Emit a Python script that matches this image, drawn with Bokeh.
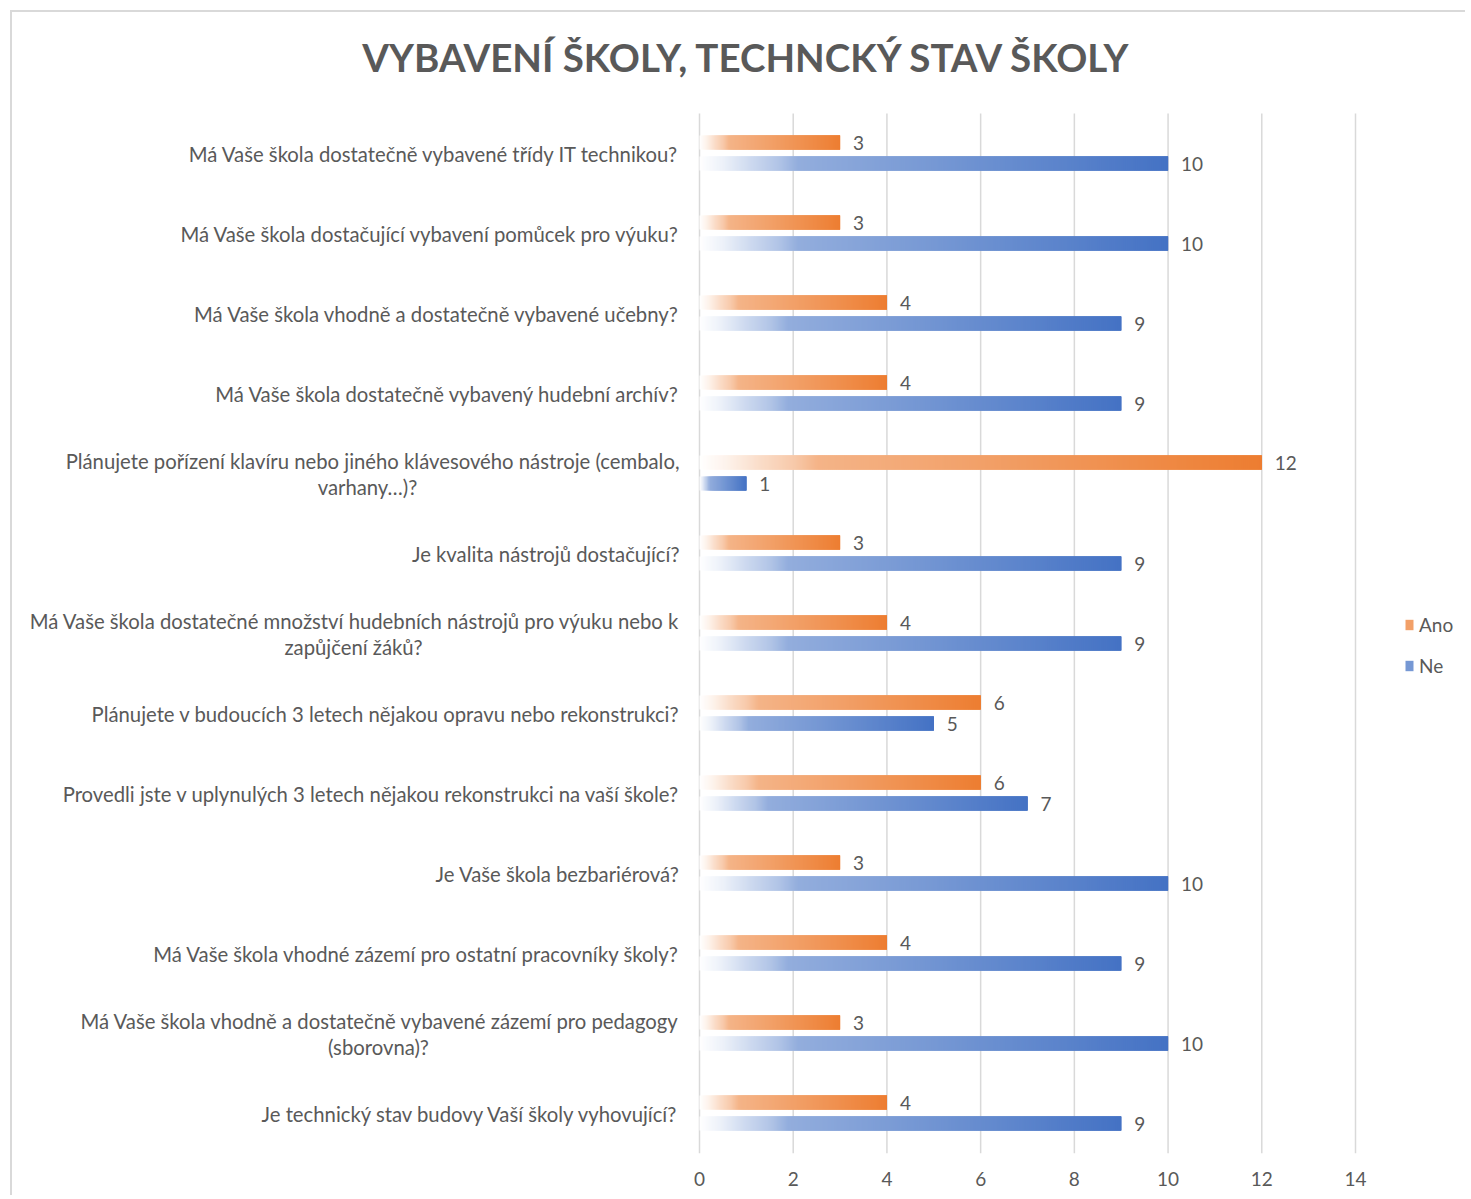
import math
import numpy as np
from bokeh.plotting import figure
from bokeh.models import (Range1d, ColumnDataSource, LabelSet, Legend, LegendItem,
                          FixedTicker)
from bokeh.embed import file_html
from bokeh.resources import INLINE
from bokeh.core.properties import value

# ---------------- data ----------------
title_text = "VYBAVENÍ ŠKOLY, TECHNCKÝ STAV ŠKOLY"
categories = [
    "Má Vaše škola dostatečně vybavené třídy IT technikou?",
    "Má Vaše škola dostačující vybavení pomůcek pro výuku?",
    "Má Vaše škola vhodně a dostatečně vybavené učebny?",
    "Má Vaše škola dostatečně vybavený hudební archív?",
    "Plánujete pořízení klavíru nebo jiného klávesového nástroje (cembalo,\nvarhany…)?",
    "Je kvalita nástrojů dostačující?",
    "Má Vaše škola dostatečné množství hudebních nástrojů pro výuku nebo k\nzapůjčení žáků?",
    "Plánujete v budoucích 3 letech nějakou opravu nebo rekonstrukci?",
    "Provedli jste v uplynulých 3 letech nějakou rekonstrukci na vaší škole?",
    "Je Vaše škola bezbariérová?",
    "Má Vaše škola vhodné zázemí pro ostatní pracovníky školy?",
    "Má Vaše škola vhodně a dostatečně vybavené zázemí pro pedagogy\n(sborovna)?",
    "Je technický stav budovy Vaší školy vyhovující?",
]
ano = [3, 3, 4, 4, 12, 3, 4, 6, 6, 3, 4, 3, 4]
ne = [10, 10, 9, 9, 1, 9, 9, 5, 7, 10, 9, 10, 9]
series_names = ["Ano", "Ne"]
x_ticks = [0, 2, 4, 6, 8, 10, 12, 14]

# ---------------- layout / style ----------------
W, H = 1455, 1185
ZERO_PX = 687            # canvas x of value 0
PX_PER_UNIT = 656 / 14
X0 = -ZERO_PX / PX_PER_UNIT
X1 = (W - ZERO_PX) / PX_PER_UNIT
PLOT_TOP_PX = 101        # canvas y where the category area starts
CAT_PX = 80              # pixel height of one category band
BOTTOM_BORDER = H - PLOT_TOP_PX - 13 * CAT_PX
TITLE_CY_PX = 44         # canvas y of the title's centre
TITLE_CX_PX = 735

ORANGE = (237, 125, 49)
BLUE = (68, 114, 196)
TXT = "#595959"
GRID = "#d9d9d9"
FONT = "Lato"
CAT_FONT_SIZE = "20.3px"
ANO_OFF = -11 / CAT_PX
NE_OFF = 10 / CAT_PX
BAR_H = 14 / CAT_PX
LINE_OFF = 13 / CAT_PX
SLICE_PX = 2             # gradient step width
SLICE_SPAN = 4           # each step overlaps the next steps (uniform layering)
grad_f = [0, 0.05, 0.11, 0.17, 0.21, 0.5, 1.0]
grad_t = [0, 0.10, 0.27, 0.42, 0.58, 0.73, 1.0]


def gradient_source(vals, rgb, off):
    d = dict(y=[], left=[], right=[], color=[])
    first_count = None
    for i, v in enumerate(vals):
        length = v * PX_PER_UNIT
        ns = int(math.ceil(length / SLICE_PX))
        if first_count is None:
            first_count = ns
        for k in range(ns):
            l_px = k * SLICE_PX
            r_px = min((k + SLICE_SPAN) * SLICE_PX, length)
            t = float(np.interp(min(l_px + SLICE_PX / 2, length) / length, grad_f, grad_t))
            r, g, b = [int(round(255 + (c - 255) * t)) for c in rgb]
            d["y"].append(i + off)
            d["left"].append(l_px / PX_PER_UNIT)
            d["right"].append(r_px / PX_PER_UNIT)
            d["color"].append(f"#{r:02x}{g:02x}{b:02x}")
    return ColumnDataSource(d), first_count


n = len(categories)
y_top = -0.5 - PLOT_TOP_PX / CAT_PX
p = figure(width=W, height=H, output_backend="svg", toolbar_location=None,
           x_range=Range1d(X0, X1), y_range=Range1d(n - 0.5, y_top),
           min_border_left=0, min_border_right=0, min_border_top=0,
           min_border_bottom=BOTTOM_BORDER)
p.styles = {"border-top": "2px solid #d9d9d9", "border-left": "2px solid #d9d9d9",
            "margin-left": "10px", "margin-top": "10px"}
p.outline_line_color = None
p.background_fill_color = "white"
p.border_fill_color = "white"

# vertical grid lines at the value ticks, spanning the category area only
p.segment(x0=x_ticks, x1=x_ticks, y0=[-0.5] * len(x_ticks), y1=[n - 0.5] * len(x_ticks),
          line_color=GRID, line_width=1.5)

# title
p.text(x=[(TITLE_CX_PX - ZERO_PX) / PX_PER_UNIT],
       y=[-0.5 - (PLOT_TOP_PX - TITLE_CY_PX) / CAT_PX], text=[title_text],
       text_align="center", text_baseline="middle", text_font=value(FONT),
       text_font_size="38.5px", text_font_style="bold", text_color=TXT)

src_ano, cnt_ano = gradient_source(ano, ORANGE, ANO_OFF)
src_ne, cnt_ne = gradient_source(ne, BLUE, NE_OFF)
r_ano = p.hbar(y="y", left="left", right="right", height=BAR_H, fill_color="color",
               line_color=None, source=src_ano)
r_ne = p.hbar(y="y", left="left", right="right", height=BAR_H, fill_color="color",
              line_color=None, source=src_ne)

# value labels
ys = list(range(n))
p.text(x=ano, y=[y + ANO_OFF for y in ys], text=[str(v) for v in ano], x_offset=13,
       text_baseline="middle", text_align="left", text_font=value(FONT),
       text_font_size="19px", text_color=TXT)
p.text(x=ne, y=[y + NE_OFF for y in ys], text=[str(v) for v in ne], x_offset=13,
       text_baseline="middle", text_align="left", text_font=value(FONT),
       text_font_size="19px", text_color=TXT)

# category labels
first_lines, first_y = [], []
second_lines, second_y, second_xo = [], [], []
second_centers = {4: -332, 6: -346, 11: -321}
for i, c in enumerate(categories):
    parts = c.split("\n")
    if len(parts) == 1:
        first_lines.append(parts[0]); first_y.append(i)
    else:
        first_lines.append(parts[0]); first_y.append(i - LINE_OFF)
        second_lines.append(parts[1]); second_y.append(i + LINE_OFF)
        second_xo.append(second_centers[i])
ls1 = LabelSet(x="x", y="y", text="text", x_offset=-20, text_align="right",
               text_baseline="middle", text_font=value(FONT), text_font_size=CAT_FONT_SIZE,
               text_color=TXT,
               source=ColumnDataSource(dict(x=[0] * len(first_lines), y=first_y, text=first_lines)))
ls2 = LabelSet(x="x", y="y", text="text", x_offset="xo", text_align="center",
               text_baseline="middle", text_font=value(FONT), text_font_size=CAT_FONT_SIZE,
               text_color=TXT,
               source=ColumnDataSource(dict(x=[0] * len(second_lines), y=second_y,
                                            text=second_lines, xo=second_xo)))
p.add_layout(ls1)
p.add_layout(ls2)

# axes
p.yaxis.visible = False
p.ygrid.visible = False
p.xgrid.visible = False
p.xaxis.ticker = FixedTicker(ticks=x_ticks)
p.xaxis.axis_line_color = None
p.xaxis.major_tick_line_color = None
p.xaxis.minor_tick_line_color = None
p.xaxis.major_label_text_font = FONT
p.xaxis.major_label_text_font_size = "19px"
p.xaxis.major_label_text_color = TXT
p.xaxis.major_label_standoff = 12

# legend
legend = Legend(items=[LegendItem(label=series_names[0], renderers=[r_ano], index=cnt_ano // 2),
                       LegendItem(label=series_names[1], renderers=[r_ne], index=cnt_ne // 2)],
                location=(1392, 476), orientation="vertical")
legend.glyph_width = 10
legend.glyph_height = 13
legend.label_text_font = FONT
legend.label_text_font_size = "19px"
legend.label_text_color = TXT
legend.label_standoff = 5
legend.spacing = 18
legend.padding = 0
legend.margin = 0
legend.border_line_color = None
legend.background_fill_alpha = 0
p.add_layout(legend)

open("out.html", "w").write(file_html(p, INLINE))
